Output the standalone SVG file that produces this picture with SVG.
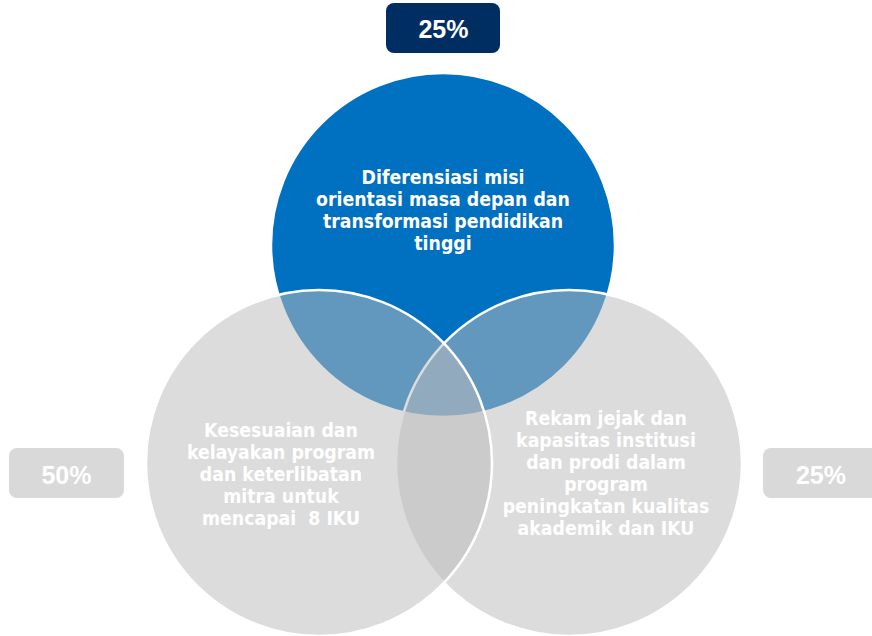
<svg xmlns="http://www.w3.org/2000/svg" width="872" height="636" viewBox="0 0 872 636">
  <style>
    .circ { stroke: #FFFFFF; stroke-width: 2.5; }
    .gray { fill: #BCBCBC; fill-opacity: 0.52; }
    .lbl { font-family: "DejaVu Sans Condensed", "DejaVu Sans", sans-serif; font-weight: bold; font-size: 19.3px; fill: #FFFFFF; text-anchor: middle; }
    .pct { font-family: "Liberation Sans", Arial, sans-serif; font-weight: bold; font-size: 25px; fill: #FFFFFF; text-anchor: middle; }
  </style>
  <rect width="872" height="636" fill="#FFFFFF"/>
  <g id="circle-top">
    <circle class="circ" cx="443" cy="245" r="172" fill="#0070C0"/>
  </g>
  <g id="circle-right">
    <circle class="circ gray" cx="569" cy="463" r="173"/>
  </g>
  <g id="circle-left">
    <circle class="circ gray" cx="319" cy="463" r="173"/>
  </g>
  <g id="label-top">
    <text class="lbl" x="443" y="184">Diferensiasi misi</text>
    <text class="lbl" x="443" y="206">orientasi masa depan dan</text>
    <text class="lbl" x="443" y="228">transformasi pendidikan</text>
    <text class="lbl" x="443" y="250">tinggi</text>
  </g>
  <g id="label-left">
    <text class="lbl" x="281" y="437">Kesesuaian dan</text>
    <text class="lbl" x="281" y="459">kelayakan program</text>
    <text class="lbl" x="281" y="481">dan keterlibatan</text>
    <text class="lbl" x="281" y="503">mitra untuk</text>
    <text class="lbl" x="281" y="525" xml:space="preserve">mencapai  8 IKU</text>
  </g>
  <g id="label-right">
    <text class="lbl" x="606" y="425">Rekam jejak dan</text>
    <text class="lbl" x="606" y="447">kapasitas institusi</text>
    <text class="lbl" x="606" y="469">dan prodi dalam</text>
    <text class="lbl" x="606" y="491">program</text>
    <text class="lbl" x="606" y="513">peningkatan kualitas</text>
    <text class="lbl" x="606" y="535">akademik dan IKU</text>
  </g>
  <g id="badge-top">
    <rect x="386" y="3" width="114" height="50" rx="8" fill="#002D62"/>
    <text class="pct" x="443.5" y="37.5">25%</text>
  </g>
  <g id="badge-left">
    <rect x="9" y="448" width="115" height="50" rx="8" fill="#D9D9D9"/>
    <text class="pct" x="66.5" y="483.5">50%</text>
  </g>
  <g id="badge-right">
    <rect x="763" y="448" width="115" height="50" rx="8" fill="#D9D9D9"/>
    <text class="pct" x="821" y="483.5">25%</text>
  </g>
</svg>
